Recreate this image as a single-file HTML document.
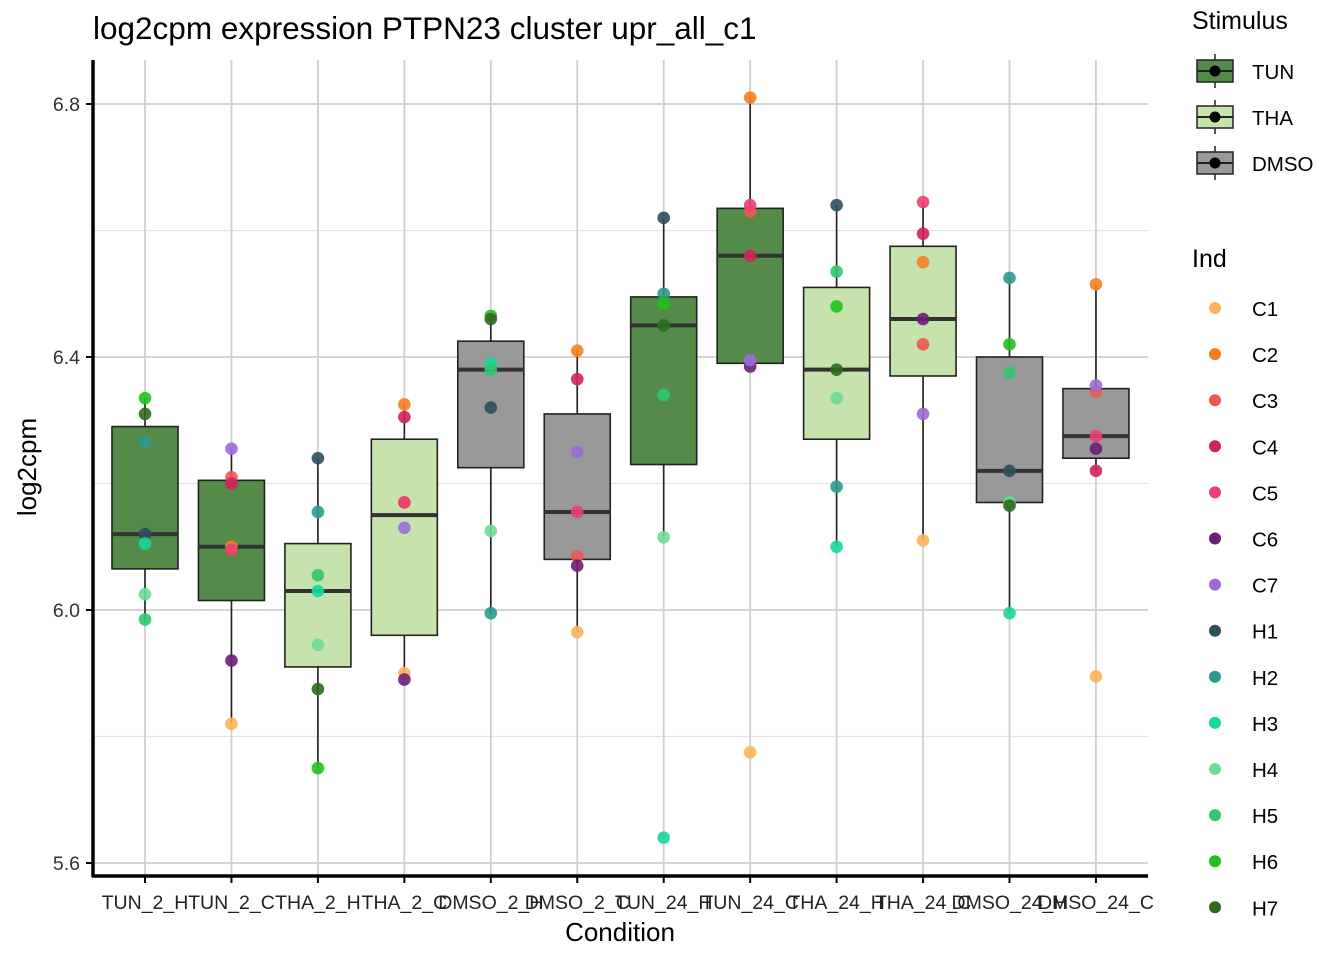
<!DOCTYPE html>
<html><head><meta charset="utf-8"><style>
body{margin:0;background:#fff;}
svg text{font-family:"Liberation Sans",Arial,sans-serif;}
</style></head><body>
<svg id="chart" width="1344" height="960" xmlns="http://www.w3.org/2000/svg">
<rect width="1344" height="960" fill="#fff"/>
<text x="93" y="39" font-size="31.5" fill="#000">log2cpm expression PTPN23 cluster upr_all_c1</text>
<g id="grid"></g><g id="boxes"></g><g id="points"></g><g id="axes"></g><g id="legend"></g>
</svg>
<script>
const categories=["TUN_2_H","TUN_2_C","THA_2_H","THA_2_C","DMSO_2_H","DMSO_2_C","TUN_24_H","TUN_24_C","THA_24_H","THA_24_C","DMSO_24_H","DMSO_24_C"];
const stimulus=["TUN","TUN","THA","THA","DMSO","DMSO","TUN","TUN","THA","THA","DMSO","DMSO"];
const boxLow=[5.985,5.82,5.75,5.89,5.995,5.965,6.115,6.39,6.1,6.11,5.995,6.22];
const boxQ1=[6.065,6.015,5.91,5.96,6.225,6.08,6.23,6.39,6.27,6.37,6.17,6.24];
const boxMed=[6.12,6.1,6.03,6.15,6.38,6.155,6.45,6.56,6.38,6.46,6.22,6.275];
const boxQ3=[6.29,6.205,6.105,6.27,6.425,6.31,6.495,6.635,6.51,6.575,6.4,6.35];
const boxHigh=[6.335,6.255,6.24,6.325,6.465,6.41,6.62,6.81,6.64,6.645,6.525,6.515];
const hInds=["H1","H2","H3","H4","H5","H6","H7"];
const cInds=["C1","C2","C3","C4","C5","C6","C7"];
const pointValues=[
[6.12,6.265,6.105,6.025,5.985,6.335,6.31],
[5.82,6.1,6.21,6.2,6.095,5.92,6.255],
[6.24,6.155,6.03,5.945,6.055,5.75,5.875],
[5.9,6.325,6.17,6.305,6.17,5.89,6.13],
[6.32,5.995,6.39,6.125,6.38,6.465,6.46],
[5.965,6.41,6.085,6.365,6.155,6.07,6.25],
[6.62,6.5,5.64,6.115,6.34,6.485,6.45],
[5.775,6.81,6.63,6.56,6.64,6.385,6.395],
[6.64,6.195,6.1,6.335,6.535,6.48,6.38],
[6.11,6.55,6.42,6.595,6.645,6.46,6.31],
[6.22,6.525,5.995,6.17,6.375,6.42,6.165],
[5.895,6.515,6.345,6.22,6.275,6.255,6.355]];
const indNames=["C1","C2","C3","C4","C5","C6","C7","H1","H2","H3","H4","H5","H6","H7"];
const indColors=["#FDB35A","#F57F20","#EE5752","#D0245A","#EB4070","#6B1E78","#9B6BD8","#2E4E5E","#2A9A8E","#17D69F","#6EDB98","#2EC870","#22C01E","#2D6A1E"];
const stimNames=["TUN","THA","DMSO"];
const stimColors=["#548B4A","#C6E2AD","#999999"];
const yTicks=[5.6,6.0,6.4,6.8];
const yMinor=[5.8,6.2,6.6];

const NS="http://www.w3.org/2000/svg";
const X0=93,X1=1148,Y0=60,Y1=876;
const xScale=i=>145+i*86.45;
const yScale=v=>610-(v-6.0)*632.5;
function mk(tag,attrs,parent){const e=document.createElementNS(NS,tag);for(const k in attrs)e.setAttribute(k,attrs[k]);document.getElementById(parent).appendChild(e);return e;}

yMinor.forEach(v=>{const l=mk('line',{x1:X0,x2:X1,y1:yScale(v),y2:yScale(v),stroke:'#e3e3e3','stroke-width':1.2},'grid');

});
yTicks.forEach(v=>{const l=mk('line',{x1:X0,x2:X1,y1:yScale(v),y2:yScale(v),stroke:'#cfcfcf','stroke-width':1.8},'grid');

});
categories.forEach((c,i)=>{const l=mk('line',{x1:xScale(i),x2:xScale(i),y1:Y0,y2:Y1,stroke:'#cfcfcf','stroke-width':1.8},'grid');

});

categories.forEach((c,i)=>{
 const x=xScale(i),w=66,col=stimColors[stimNames.indexOf(stimulus[i])];
 const g=mk('g',{},'boxes');
 
 
 const add=(t,a)=>{const e=document.createElementNS(NS,t);for(const k in a)e.setAttribute(k,a[k]);g.appendChild(e);return e;};
 add('line',{x1:x,x2:x,y1:yScale(boxHigh[i]),y2:yScale(boxLow[i]),stroke:'#222','stroke-width':1.6});
 add('rect',{x:x-w/2,y:yScale(boxQ3[i]),width:w,height:yScale(boxQ1[i])-yScale(boxQ3[i]),fill:col,stroke:'#222','stroke-width':1.6});
 add('line',{x1:x-w/2,x2:x+w/2,y1:yScale(boxMed[i]),y2:yScale(boxMed[i]),stroke:'#333','stroke-width':4});
});
pointValues.forEach((vals,i)=>{
 const inds=categories[i].endsWith('_H')?hInds:cInds;
 vals.forEach((v,j)=>{const p=mk('circle',{cx:xScale(i),cy:yScale(v),r:6.3,fill:indColors[indNames.indexOf(inds[j])],'fill-opacity':0.9},'points');
 
 });
});
let a=mk('line',{x1:X0,x2:X0,y1:Y0,y2:Y1+1,stroke:'#000','stroke-width':3.5},'axes');


a=mk('line',{x1:X0-1,x2:X1,y1:Y1,y2:Y1,stroke:'#000','stroke-width':3.5},'axes');


yTicks.forEach(v=>{mk('line',{x1:X0-7,x2:X0,y1:yScale(v),y2:yScale(v),stroke:'#000','stroke-width':2},'axes');
 const t=mk('text',{x:X0-13,y:yScale(v)+7,'font-size':19.5,'text-anchor':'end',fill:'#333'},'axes');t.textContent=v.toFixed(1);
 
 });
categories.forEach((c,i)=>{mk('line',{x1:xScale(i),x2:xScale(i),y1:Y1,y2:Y1+7,stroke:'#000','stroke-width':2},'axes');
 const t=mk('text',{x:xScale(i),y:909,'font-size':19.5,'text-anchor':'middle',fill:'#222'},'axes');t.textContent=c;
 
 });
let t=mk('text',{x:620,y:941,'font-size':26,'text-anchor':'middle'},'axes');t.textContent='Condition';


t=mk('text',{x:36,y:467,'font-size':26,'text-anchor':'middle',transform:'rotate(-90 36 467)'},'axes');t.textContent='log2cpm';


t=mk('text',{x:1192,y:29,'font-size':25},'legend');t.textContent='Stimulus';


stimNames.forEach((s,i)=>{const cy=71+i*46;
 const g=mk('g',{},'legend');
 
 
 const add=(tg,a)=>{const e=document.createElementNS(NS,tg);for(const k in a)e.setAttribute(k,a[k]);g.appendChild(e);return e;};
 add('line',{x1:1215,x2:1215,y1:cy-17,y2:cy+17,stroke:'#222','stroke-width':1.5});
 add('rect',{x:1197,y:cy-11,width:36,height:22,fill:stimColors[i],stroke:'#222','stroke-width':1.5});
 add('line',{x1:1197,x2:1233,y1:cy,y2:cy,stroke:'#222','stroke-width':2});
 add('circle',{cx:1215,cy:cy,r:5.5,fill:'#000'});
 const tx=add('text',{x:1252,y:cy+8,'font-size':20.5});tx.textContent=s;});
t=mk('text',{x:1192,y:267,'font-size':25},'legend');t.textContent='Ind';


indNames.forEach((n,i)=>{const cy=308+i*46.1;
 const g=mk('g',{},'legend');
 
 
 const c=document.createElementNS(NS,'circle');c.setAttribute('cx',1215);c.setAttribute('cy',cy);c.setAttribute('r',6);c.setAttribute('fill',indColors[i]);g.appendChild(c);
 const tx=document.createElementNS(NS,'text');tx.setAttribute('x',1252);tx.setAttribute('y',cy+8);tx.setAttribute('font-size',20.5);tx.textContent=n;g.appendChild(tx);});
</script>
</body></html>
